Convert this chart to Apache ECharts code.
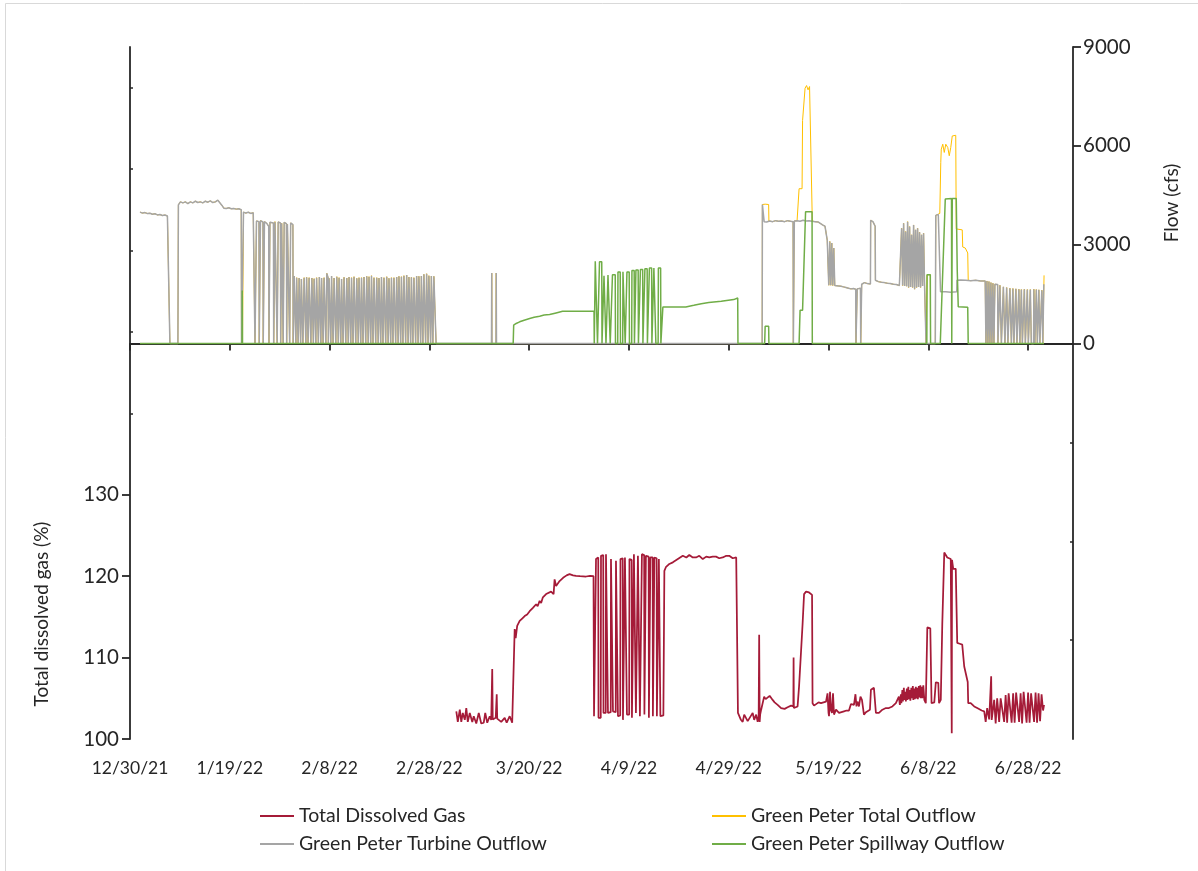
<!DOCTYPE html>
<html>
<head>
<meta charset="utf-8">
<title>Green Peter outflow and total dissolved gas</title>
<script src="https://cdn.jsdelivr.net/npm/echarts@6/dist/echarts.min.js"></script>
<style>
  html, body { margin: 0; padding: 0; background: #ffffff; }
  #chart { width: 1198px; height: 871px; }
</style>
</head>
<body>
<div id="chart"></div>
<script>
// Day offsets are counted from 12/30/21 (day 0).
const dateTicks = ['12/30/21', '1/19/22', '2/8/22', '2/28/22', '3/20/22', '4/9/22', '4/29/22', '5/19/22', '6/8/22', '6/28/22'];
const tdgTickValues = [100, 110, 120, 130];
const flowTickValues = [0, 3000, 6000, 9000];

// Green Peter turbine outflow (cfs): [day, flow]
const turbine = [
  [2.0,3990],[2.5,3960],[3.0,3975],[3.5,3945],[4.0,3955],[4.5,3925],[5.0,3940],[5.5,3905],[6.0,3915],[6.5,3885],[7.0,3900],[7.5,3870],[7.8,3880],[7.9,3930],[8.0,0],
  [9.6,0],[9.7,4210],[10.1,4300],[10.6,4270],[11.1,4300],[11.6,4250],[12.1,4300],[12.6,4270],[13.1,4320],[13.6,4280],[14.1,4300],[14.6,4270],[15.1,4320],[15.6,4290],[16.1,4330],[16.6,4280],[17.1,4300],[17.6,4350],[18.0,4290],[18.4,4200],[18.8,4110],[19.3,4100],[19.8,4120],[20.3,4090],[20.8,4100],[21.3,4080],[21.8,4090],[22.3,4060],[22.35,0],
  [22.7,0],[22.75,3990],[23.2,3960],[23.7,3985],[24.2,3950],[24.7,3970],[25.0,3930],[25.05,0],
  [25.3,0],[25.35,3720],[25.85,3700],[25.9,0],[26.1,0],[26.15,3730],[26.65,3690],[26.7,0],[26.9,0],[26.95,3700],[27.4,3650],[27.8,3560],[27.85,0],[28.0,0],[28.05,3680],[28.75,3660],[28.8,0],[29.0,0],[29.05,3700],[29.45,3640],[29.5,0],[29.65,0],[29.7,3690],[30.15,3660],[30.2,0],[30.35,0],[30.4,3650],[30.65,3600],[30.7,0],[30.85,0],[30.9,3680],[31.35,3640],[31.4,0],[31.5,0],[31.55,3620],[31.95,3600],[32.0,0],[32.15,0],[32.2,3660],[32.65,3610],[32.7,0],
  [32.85,0],[32.9,2050],[33.2,2010],[33.25,0],[33.35,0],[33.4,2000],[33.65,1990],[33.7,0],[33.85,0],
  [33.9,1990],[34.15,2000],[34.2,0],[34.3,0],[34.35,1960],[34.6,1970],[34.65,0],[34.85,0],
  [34.9,2000],[35.2,1990],[35.25,0],[35.35,0],[35.4,2010],[35.65,1980],[35.7,0],[35.85,0],
  [35.9,2000],[36.2,2020],[36.25,0],[36.4,0],[36.45,1990],[36.7,2000],[36.75,0],[36.85,0],
  [36.9,1970],[37.2,2010],[37.25,0],[37.35,0],[37.4,2000],[37.7,1980],[37.75,0],[37.9,0],
  [37.95,2020],[38.2,2000],[38.25,0],[38.35,0],[38.4,1990],[38.65,2010],[38.7,0],[38.85,0],
  [38.9,2000],[39.2,1990],[39.25,0],[39.4,0],[39.45,2130],[39.7,2000],[39.75,0],[39.85,0],
  [39.9,1980],[40.2,2020],[40.25,0],[40.35,0],[40.4,2050],[40.65,2000],[40.7,0],[40.85,0],
  [40.9,1990],[41.2,2000],[41.25,0],[41.4,0],[41.45,2030],[41.7,1990],[41.75,0],[41.85,0],
  [41.9,2000],[42.2,2010],[42.25,0],[42.35,0],[42.4,1960],[42.65,1980],[42.7,0],[42.85,0],
  [42.9,2010],[43.2,2000],[43.25,0],[43.4,0],[43.45,1990],[43.7,2000],[43.75,0],[43.85,0],
  [43.9,2020],[44.2,1990],[44.25,0],[44.35,0],[44.4,2000],[44.65,2010],[44.7,0],[44.85,0],
  [44.9,2030],[45.2,2000],[45.25,0],[45.4,0],[45.45,1980],[45.7,2010],[45.75,0],[45.85,0],
  [45.9,2000],[46.2,2030],[46.25,0],[46.35,0],[46.4,2000],[46.65,2010],[46.7,0],[46.85,0],
  [46.9,2020],[47.2,2000],[47.25,0],[47.4,0],[47.45,2040],[47.7,2010],[47.75,0],[47.85,0],
  [47.9,2030],[48.2,2050],[48.25,0],[48.35,0],[48.4,2060],[48.65,2050],[48.7,0],[48.85,0],
  [48.9,2000],[49.2,1990],[49.25,0],[49.4,0],[49.45,2000],[49.7,2010],[49.75,0],[49.85,0],
  [49.9,1990],[50.2,2000],[50.25,0],[50.35,0],[50.4,2020],[50.65,1990],[50.7,0],[50.85,0],
  [50.9,2000],[51.2,2010],[51.25,0],[51.4,0],[51.45,2030],[51.7,2000],[51.75,0],[51.85,0],
  [51.9,1980],[52.2,2010],[52.25,0],[52.35,0],[52.4,2000],[52.65,2030],[52.7,0],[52.85,0],
  [52.9,2000],[53.2,2010],[53.25,0],[53.4,0],[53.45,2020],[53.7,2000],[53.75,0],[53.85,0],
  [53.9,2040],[54.2,2010],[54.25,0],[54.35,0],[54.4,2030],[54.65,2050],[54.7,0],[54.85,0],
  [54.9,2060],[55.2,2050],[55.25,0],[55.4,0],[55.45,2080],[55.7,2040],[55.75,0],[55.85,0],
  [55.9,2020],[56.2,2000],[56.25,0],[56.35,0],[56.4,2010],[56.65,2030],[56.7,0],[56.85,0],
  [56.9,2000],[57.2,2020],[57.25,0],[57.4,0],[57.45,2050],[57.7,2030],[57.75,0],[57.85,0],
  [57.9,2040],[58.2,2060],[58.25,0],[58.35,0],[58.4,2050],[58.65,2080],[58.7,0],[58.85,0],
  [58.9,2100],[59.2,2150],[59.25,0],[59.4,0],[59.45,2120],[59.7,2080],[59.75,0],[59.85,0],
  [59.9,2060],[60.2,2040],[60.25,0],[60.35,0],[60.4,2050],[60.65,2030],[60.7,0],[60.85,0],
  [60.9,2040],[61.3,2030],[61.35,0],
  [72.45,0],[72.5,2140],[72.55,0],[73.35,0],[73.4,2140],[73.45,0],
  [126.7,0],[126.75,4220],[127.0,4200],[127.1,3700],[127.6,3690],[128.2,3720],[128.8,3700],[129.4,3730],[130.0,3710],[130.6,3720],[131.2,3700],[131.8,3730],[132.4,3710],[132.9,3700],[132.95,0],[133.1,0],[133.15,3720],[133.7,3730],[134.3,3710],[134.9,3740],[135.5,3720],[136.1,3730],[136.7,3710],[137.3,3700],[137.9,3690],[138.3,3640],[138.8,3600],[139.3,3560],[139.7,3500],[139.75,3130],[140.0,3100],
  [140.05,1770],[140.2,1770],[140.25,3100],[140.4,3080],[140.45,1770],[140.6,1770],[140.65,3050],[140.8,3000],[140.85,1760],[141.0,1760],[141.05,2900],[141.2,2850],[141.25,1760],[141.5,1760],
  [142.0,1750],[142.5,1740],[143.0,1720],[143.5,1700],[144.0,1680],[144.5,1660],[145.0,1670],[145.45,1650],[145.5,0],[145.7,0],[145.75,1660],[146.4,1680],[146.45,0],[146.6,0],[146.65,1800],[147.2,1850],[147.8,1820],[148.4,1810],[148.45,3740],[148.9,3700],[149.35,3560],[149.4,1920],[150.0,1880],[150.6,1860],[151.2,1850],[151.8,1830],[152.4,1820],[153.0,1800],[153.6,1790],[154.2,1760],[154.6,1750],
  [154.65,3500],[154.8,3450],[154.85,1760],[155.0,1760],[155.05,3650],[155.2,3600],[155.25,1750],[155.4,1750],[155.45,3400],[155.6,3350],[155.65,1740],[155.8,1740],[155.85,3700],[156.0,3650],[156.05,1700],[156.2,1700],[156.25,3550],[156.4,3500],[156.45,1720],[156.6,1720],[156.65,3300],[156.8,3250],[156.85,1700],[157.0,1700],[157.05,3600],[157.2,3550],[157.25,1650],[157.4,1650],[157.45,3450],[157.6,3400],[157.65,1700],[157.8,1700],[157.85,3500],[158.0,3450],[158.05,1720],[158.2,1720],[158.25,3380],[158.4,3350],[158.45,1700],[158.6,1700],[158.65,3300],[158.8,3250],[158.85,1750],[159.0,1750],[159.05,3350],[159.2,3300],[159.25,1760],[159.5,1760],[159.55,0],
  [161.4,0],[161.5,3890],[162.0,3920],[162.4,3900],[162.45,1570],[163.5,1570],[164.5,1560],[165.7,1570],[165.75,1920],[166.5,1930],[167.5,1920],[168.5,1910],[169.5,1920],[170.5,1900],[171.4,1900],
  [171.5,1880],[171.55,0],[171.7,0],[171.75,1900],[171.9,1890],[171.95,0],[172.1,0],[172.15,1880],[172.3,1870],[172.35,0],[172.5,0],[172.55,1850],[172.7,1850],[172.75,0],[172.9,0],[172.95,1830],[173.1,1830],[173.15,0],[173.3,0],[173.35,1800],[173.9,1790],[173.95,0],[174.3,0],[174.35,1770],[174.6,1760],[174.65,0],[175.0,0],[175.05,1720],[175.3,1720],[175.35,0],[175.65,0],[175.7,1700],[175.9,1690],[175.95,0],[176.3,0],[176.35,1680],[176.6,1680],[176.65,0],[176.9,0],[176.95,1670],[177.1,1660],[177.15,0],[177.5,0],[177.55,1660],[177.7,1660],[177.75,0],[178.1,0],[178.15,1650],[178.3,1650],[178.35,0],[178.6,0],[178.65,1640],[178.8,1640],[178.85,0],[179.2,0],[179.25,1650],[179.4,1640],[179.45,0],[179.8,0],[179.85,1640],[180.0,1640],[180.05,0],[180.4,0],[180.45,1640],[180.6,1630],[180.65,0],[181.1,0],[181.15,1650],[181.3,1640],[181.35,0],[181.6,0],[181.65,1640],[181.8,1630],[181.85,0],[182.1,0],[182.15,1630],[182.3,1630],[182.35,0],[182.7,0],[182.75,1620],[182.9,1620],[182.95,0],[183.1,0],[183.15,1800]
];

// Green Peter spillway outflow (cfs): [day, flow]
const spillway = [
  [2.0,0],[22.45,0],[22.5,1610],[22.55,0],
  [76.8,0],[76.9,560],[77.4,610],[77.45,650],[78.1,660],[78.15,700],[79.0,710],[79.05,740],[80.1,760],[80.15,790],[81.0,800],[81.05,820],[82.1,830],[82.15,860],[83.0,865],[83.05,880],[84.1,880],[84.15,910],[85.4,930],[85.45,960],[86.7,980],[93.0,990],[93.05,0],
  [93.2,0],[93.25,2500],[93.65,2500],[93.7,0],[94.05,0],[94.1,2480],[94.55,2480],[94.6,0],[94.95,0],[95.0,2060],[95.35,2060],[95.4,0],[95.75,0],[95.8,2080],[96.2,2080],[96.25,0],[96.65,0],[96.7,2090],[97.25,2090],[97.3,0],[97.75,0],[97.8,2170],[98.25,2170],[98.3,0],[98.75,0],[98.8,2180],[99.2,2180],[99.25,0],[99.55,0],[99.6,2170],[100.05,2170],[100.1,0],[100.55,0],[100.6,2220],[101.05,2220],[101.1,0],[101.35,0],[101.4,2230],[101.85,2230],[101.9,0],[102.25,0],[102.3,2250],[102.75,2250],[102.8,0],[103.15,0],[103.2,2270],[103.65,2270],[103.7,0],[104.05,0],[104.1,2290],[104.55,2290],[104.6,0],[104.95,0],[105.0,2290],[105.35,2290],[105.4,0],[105.85,0],[105.9,2290],[106.35,2290],[106.4,0],
  [106.75,0],[106.8,1110],[111.4,1110],[111.45,1160],[113.0,1160],[113.05,1210],[114.5,1210],[114.55,1240],[116.0,1245],[116.05,1280],[118.5,1285],[118.55,1330],[121.0,1335],[121.05,1380],[121.8,1385],[121.85,0],
  [127.2,0],[127.3,525],[128.0,525],[128.05,0],
  [134.1,0],[134.3,1010],[134.8,1010],[135.4,4000],[136.7,4000],[136.75,0],
  [159.7,0],[159.75,2090],[160.4,2090],[160.45,0],
  [162.4,0],[163.4,4390],[164.65,4400],[164.7,0],[164.8,4400],[165.6,4400],[165.8,2220],[166.0,1120],[167.9,1100],[168.0,0],[183.2,0]
];

// Green Peter total outflow (cfs) while spilling: [day, flow]
const totalWhileSpilling = [
  [22.45,0],[22.5,1610],[22.55,0],
  [126.7,0],[126.75,4220],[127.3,4230],[128.0,4220],[128.05,3720],
  [134.0,3730],[134.1,4700],[134.7,4700],[134.8,6770],[135.1,6800],[135.3,7750],[135.6,7830],[135.9,7700],[136.2,7800],[136.6,7760],[136.75,3720],
  [159.7,0],[159.75,2090],[160.4,2090],[160.45,0],
  [161.4,0],[161.5,3890],[162.3,3950],[162.5,5500],[162.6,5900],[162.9,6050],[163.2,5800],[163.5,6050],[163.9,5950],[164.2,5700],[164.5,5950],[164.8,6300],[165.2,6250],[165.5,6320],[165.6,3480],[166.8,3450],[166.9,2930],[167.4,2900],[167.9,2750],[168.0,1920],
  [183.1,0],[183.2,2070]
];
// Day ranges in which total outflow differs from turbine outflow
const spillingWindows = [[22.4,22.6],[126.68,128.06],[133.95,136.8],[159.6,160.5],[161.38,168.05],[183.05,184]];

// Total dissolved gas (%): [day, percent]
const tdg = [
  [65.4,103.4],[65.7,102.1],[66.1,103.6],[66.4,102.1],[66.7,103.2],[67.1,102.35],[67.4,103.8],[67.7,102.1],[68.1,103.2],[68.6,102.1],[68.9,102.8],[69.4,101.9],[69.9,103.2],[70.4,101.9],[70.9,102.0],[71.2,103.2],[71.6,102.0],[72.1,102.8],[72.4,102.35],[72.6,108.6],[72.7,102.4],[72.9,102.35],[73.3,102.6],[73.5,105.5],[73.6,102.5],[73.7,102.35],[74.4,102.1],[75.1,102.6],[75.5,102.0],[76.1,102.8],[76.6,102.0],[76.9,102.1],
  [77.1,113.5],[77.3,112.4],[77.6,113.9],[78.1,114.5],[78.6,114.8],[79.1,115.1],[79.6,115.3],[80.1,115.7],[80.4,115.5],[80.75,116.1],[81.1,116.0],[81.4,116.55],[81.7,116.3],[82.1,116.96],[82.4,116.7],[82.75,117.4],[83.1,117.2],[83.4,117.8],[83.8,117.6],[84.4,118.1],[84.9,117.8],[85.1,119.6],[85.4,118.8],[86.1,119.4],[86.8,119.8],[87.5,120.1],[88.1,120.25],[88.8,120.1],[89.4,120.05],[90.2,120.0],[91.4,119.96],[92.2,120.05],[92.9,120.0],[93.0,102.8],
  [93.35,102.8],[93.4,122.1],[93.85,122.3],[93.9,102.6],[94.35,102.6],[94.4,122.5],[94.85,122.6],[94.9,103.2],[95.35,103.2],[95.4,122.7],[95.75,122.5],[95.8,103.2],[96.35,103.3],[96.4,122.1],[96.75,122.0],[96.8,103.4],[97.35,103.3],[97.4,121.9],[97.75,122.0],[97.8,102.8],[98.25,102.9],[98.3,122.1],[98.75,122.2],[98.8,102.35],[99.15,102.4],[99.2,122.3],[99.55,122.2],[99.6,103.0],[100.05,103.0],[100.1,122.1],[100.55,122.0],[100.6,102.6],[100.95,102.6],[101.0,122.7],[101.35,122.6],[101.4,103.2],[101.75,103.1],[101.8,122.5],[102.15,122.5],[102.2,102.8],[102.55,102.9],[102.6,122.7],[103.05,122.6],[103.1,103.0],[103.35,103.0],[103.4,122.5],[103.95,122.4],[104.0,102.6],[104.25,102.6],[104.3,122.3],[104.75,122.3],[104.8,102.8],[105.05,102.8],[105.1,122.3],[105.55,122.2],[105.6,102.8],[105.95,102.8],[106.0,122.1],[106.25,122.1],[106.3,102.8],[106.9,102.9],
  [107.1,120.65],[107.4,121.1],[108.1,121.5],[108.8,121.7],[109.8,122.1],[110.8,122.5],[111.5,122.3],[112.1,122.6],[112.8,122.3],[113.45,122.3],[114.1,122.5],[114.8,122.1],[115.5,122.4],[116.1,122.3],[116.8,122.4],[117.45,122.4],[118.1,122.2],[118.8,122.3],[119.5,122.5],[120.1,122.5],[120.8,122.2],[121.5,122.3],[121.75,122.2],[121.85,103.2],
  [122.1,103.0],[122.4,102.4],[122.8,102.1],[123.1,103.0],[123.5,102.8],[123.8,102.2],[124.1,102.0],[124.5,102.9],[124.8,103.2],[125.1,102.35],[125.5,103.0],[125.8,102.1],[126.0,102.8],[126.1,112.8],[126.2,102.1],[126.3,103.0],[126.5,103.6],[126.8,103.8],[127.1,105.2],[127.4,104.9],[127.8,105.0],[128.2,105.3],[128.5,105.2],[128.8,104.8],[129.2,104.5],[129.5,104.4],[129.8,104.2],[130.1,104.0],[130.5,103.8],[130.8,103.6],[131.2,103.7],[131.5,103.6],[131.8,103.9],[132.1,103.8],[132.5,104.1],[132.8,104.0],[132.95,104.0],[133.0,110.0],[133.05,103.8],[133.4,104.0],[133.8,104.0],
  [134.1,106.5],[134.5,106.7],[134.8,114.1],[135.1,117.8],[135.5,118.1],[136.1,118.0],[136.7,117.7],[136.8,104.4],[137.1,104.1],[137.5,104.2],[138.0,104.5],[138.5,104.4],[139.0,104.5],[139.5,104.6],[139.8,105.6],[140.0,103.2],[140.1,102.8],[140.3,105.8],[140.5,103.5],[140.7,103.2],[140.9,105.6],[141.1,103.0],[141.2,103.0],[141.5,103.6],[142.1,103.2],[142.6,103.3],[143.1,103.4],[143.6,103.5],[144.1,103.5],[144.5,104.3],[144.8,104.4],[145.1,104.2],[145.4,105.5],[145.6,104.0],[145.8,104.6],[146.1,104.0],[146.4,105.2],[146.7,104.8],[147.1,103.0],[147.5,103.3],[147.8,103.4],[148.3,103.6],[148.5,106.05],[149.1,106.3],[149.4,106.2],[149.5,103.2],[150.1,103.2],[150.5,103.4],[150.8,103.6],[151.2,103.5],[151.5,103.8],[152.1,103.8],[152.8,104.0],[153.5,104.4],[153.8,104.8],[154.1,105.2],[154.3,104.2],[154.5,105.5],[154.6,104.4],[154.8,106.0],[154.9,104.6],[155.1,106.3],[155.2,104.8],[155.4,105.8],[155.5,104.6],[155.7,106.2],[155.8,104.8],[156.0,106.4],[156.1,104.9],[156.3,106.0],[156.4,104.7],[156.6,106.3],[156.7,105.0],[156.9,106.5],[157.0,104.8],[157.2,106.2],[157.3,104.9],[157.5,106.4],[157.6,105.0],[157.8,106.3],[157.9,104.9],[158.1,106.5],[158.2,105.1],[158.4,106.6],[158.5,105.0],[158.7,106.4],[158.8,105.0],[159.0,106.6],[159.2,104.8],[159.5,104.4],
  [159.75,104.5],[159.8,113.7],[160.4,113.6],[160.5,113.7],[160.65,104.4],[160.9,104.4],[161.2,104.5],[161.45,104.6],[161.5,106.96],[162.0,106.9],[162.15,104.4],[162.5,104.8],[162.8,114.1],[163.2,122.9],[163.5,122.8],[163.8,122.3],[164.2,122.1],[164.5,122.1],[164.65,122.0],[164.7,100.7],[164.75,122.0],[164.8,122.1],[165.0,120.9],[165.5,120.9],[165.8,111.8],[166.3,111.7],[166.8,111.6],[167.2,108.9],[167.5,108.9],[167.9,107.0],[168.0,104.4],[168.5,104.4],[169.2,104.0],[169.8,103.8],[170.2,103.6],[170.7,103.5],[171.2,103.4],
  [171.5,102.1],[171.8,103.8],[172.2,102.4],[172.6,107.7],[172.7,102.35],[172.8,102.4],[173.2,104.8],[173.5,101.9],[173.8,105.0],[174.2,102.1],[174.5,105.0],[174.8,105.2],[175.2,102.1],[175.5,105.4],[175.8,102.0],[176.1,105.6],[176.4,105.5],[176.7,102.0],[177.0,105.6],[177.3,102.0],[177.6,105.7],[177.9,105.6],[178.2,102.1],[178.5,105.6],[178.8,101.9],[179.1,105.8],[179.4,105.6],[179.7,102.0],[180.0,105.7],[180.3,102.0],[180.6,105.6],[180.9,105.6],[181.2,102.1],[181.5,105.7],[181.8,102.0],[182.1,105.6],[182.4,102.2],[182.7,105.5],[183.0,103.5],[183.2,104.2]
];

// Total outflow equals turbine outflow outside the spilling windows
const inWindow = d => spillingWindows.some(w => d >= w[0] && d <= w[1]);
const totalOutflow = turbine.filter(p => !inWindow(p[0]))
  .concat(totalWhileSpilling)
  .sort((a, b) => a[0] - b[0]);

const FONT = 'Lato';
const TEXT = '#262626';
const AXIS = '#262626';
const AXIS_W = 1.8;

const chart = echarts.init(document.getElementById('chart'), null, { renderer: 'canvas' });

function lineSeries(name, data, color, width, yAxisIndex) {
  return {
    name, type: 'line', data, yAxisIndex,
    symbol: 'none', showSymbol: false, animation: false,
    lineStyle: { color, width }, itemStyle: { color },
    emphasis: { disabled: true }
  };
}

chart.setOption({
  backgroundColor: '#ffffff',
  animation: false,
  textStyle: { fontFamily: FONT },
  grid: { left: 130, right: 125, top: 47, bottom: 132, containLabel: false },
  xAxis: {
    type: 'value', min: 0, max: 189, interval: 20,
    axisLine: { lineStyle: { color: AXIS, width: AXIS_W } },
    axisTick: { length: 7, lineStyle: { color: AXIS, width: AXIS_W }, customValues: [0,20,40,60,80,100,120,140,160,180] },
    axisLabel: {
      margin: 20, color: TEXT, fontSize: 17.5, fontFamily: FONT,
      customValues: [0,20,40,60,80,100,120,140,160,180],
      formatter: v => dateTicks[Math.round(v / 20)] || ''
    },
    splitLine: { show: false }
  },
  yAxis: [
    {
      type: 'value', position: 'left', min: 100, max: 185, interval: 10,
      axisLine: { show: true, lineStyle: { color: AXIS, width: AXIS_W } },
      axisTick: { show: true, length: 8, lineStyle: { color: AXIS, width: AXIS_W }, customValues: tdgTickValues },
      axisLabel: { margin: 11, color: TEXT, fontSize: 20.5, fontFamily: FONT, customValues: tdgTickValues, formatter: v => String(v) },
      splitLine: { show: false }
    },
    {
      type: 'value', position: 'right', min: -12000, max: 9000, interval: 3000,
      axisLine: { show: true, lineStyle: { color: AXIS, width: AXIS_W } },
      axisTick: { show: true, length: 8, lineStyle: { color: AXIS, width: AXIS_W }, customValues: flowTickValues },
      axisLabel: { margin: 10, color: TEXT, fontSize: 20.5, fontFamily: FONT, customValues: flowTickValues, formatter: v => String(v) },
      splitLine: { show: false }
    },
    {
      type: 'value', position: 'left', min: 100, max: 185, interval: 10,
      axisLine: { show: false },
      axisTick: { show: true, inside: true, length: 3, lineStyle: { color: AXIS, width: 1.5 }, customValues: [140,150,160,170,180] },
      axisLabel: { show: false }, splitLine: { show: false }
    },
    {
      type: 'value', position: 'right', min: -12000, max: 9000, interval: 3000,
      axisLine: { show: false },
      axisTick: { show: true, inside: true, length: 3, lineStyle: { color: AXIS, width: 1.5 }, customValues: [-3000,-6000,-9000] },
      axisLabel: { show: false }, splitLine: { show: false }
    }
  ],
  legend: [
    {
      left: 260, top: 806, orient: 'vertical', itemGap: 8, padding: 0,
      icon: 'rect', itemWidth: 34, itemHeight: 2,
      textStyle: { color: TEXT, fontSize: 19.5, fontFamily: FONT },
      data: ['Total Dissolved Gas', 'Green Peter Turbine Outflow'],
      selectedMode: false
    },
    {
      left: 712, top: 806, orient: 'vertical', itemGap: 8, padding: 0,
      icon: 'rect', itemWidth: 34, itemHeight: 2,
      textStyle: { color: TEXT, fontSize: 19.5, fontFamily: FONT },
      data: ['Green Peter Total Outflow', 'Green Peter Spillway Outflow'],
      selectedMode: false
    }
  ],
  graphic: [
    {
      type: 'rect', silent: true,
      shape: { x: 5.5, y: 3.5, width: 1400, height: 1000 },
      style: { fill: 'none', stroke: '#D9D9D9', lineWidth: 1 }
    },
    {
      type: 'text', silent: true, x: 42, y: 614, rotation: Math.PI / 2,
      style: { text: 'Total dissolved gas (%)', fill: TEXT, font: '19px ' + FONT, align: 'center', verticalAlign: 'middle' }
    },
    {
      type: 'text', silent: true, x: 1172, y: 203, rotation: Math.PI / 2,
      style: { text: 'Flow (cfs)', fill: TEXT, font: '19px ' + FONT, align: 'center', verticalAlign: 'middle' }
    }
  ],
  series: [
    lineSeries('Green Peter Total Outflow', totalOutflow, '#FFC000', 1.0, 1),
    lineSeries('Green Peter Turbine Outflow', turbine, '#A5A5A5', 1.5, 1),
    lineSeries('Green Peter Spillway Outflow', spillway, '#70AD47', 1.5, 1),
    lineSeries('Total Dissolved Gas', tdg, '#A51B38', 1.75, 0)
  ]
});
</script>
</body>
</html>
